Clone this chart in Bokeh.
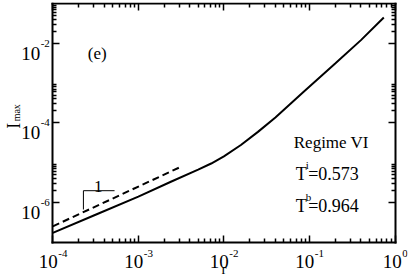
import math
from bokeh.plotting import figure
from bokeh.models import Label, LogAxis, FixedTicker, Range1d
from bokeh.embed import file_html
from bokeh.resources import INLINE

# ---- data ----
r_curve = [1e-4, 3.16e-4, 1e-3, 2.4e-3, 5e-3, 7.1e-3, 1e-2, 1.58e-2, 2.5e-2,
           4e-2, 8.5e-2, 0.2, 0.4, 0.74]
I_curve = [1.72e-7, 4.91e-7, 1.40e-6, 3.31e-6, 6.67e-6, 9.5e-6, 1.44e-5, 2.77e-5,
           5.93e-5, 1.37e-4, 5.96e-4, 3.09e-3, 1.20e-2, 4.44e-2]
r_slope = [1e-4, 3e-3]
I_slope = [2.5e-7, 7.5e-6]
tri_r = [2.28e-4, 2.28e-4, 5.27e-4]
tri_I = [6.64e-7, 1.97e-6, 1.97e-6]
tri_label_r = 3.4e-4
tri_label_I = 1.97e-6

x_major = [1e-4, 1e-3, 1e-2, 1e-1, 1e0]
x_exps = ["-4", "-3", "-2", "-1", "0"]
y_major = [1e-6, 1e-4, 1e-2]
y_exps = ["-6", "-4", "-2"]
x_minor = [k * m for m in [1e-4, 1e-3, 1e-2, 1e-1] for k in range(2, 10)]
y_minor = [k * m for m in y_major for k in range(2, 10)]

x_lo, x_hi = 1e-4, 1.0
y_lo, y_hi = 1e-7, 1e-1

FONT = "Liberation Serif"
W, H = 409, 276
MB = 2                      # border around the frame
MBB = 0                     # bottom border
BOX_L, BOX_R, BOX_T, BOX_B = 52.3, 394.5, 3.0, 241.7   # axis box in pixels

# ranges so that the axis box lands on BOX_* inside the frame
dx = (math.log10(x_hi) - math.log10(x_lo)) / (BOX_R - BOX_L)
dy = (math.log10(y_hi) - math.log10(y_lo)) / (BOX_B - BOX_T)
xr = Range1d(10 ** (math.log10(x_lo) - (BOX_L - MB) * dx), 10 ** (math.log10(x_hi) + (W - MB - BOX_R) * dx))
yr = Range1d(10 ** (math.log10(y_lo) - (H - MBB - BOX_B) * dy), 10 ** (math.log10(y_hi) + (BOX_T - MB) * dy))

p = figure(width=W, height=H, x_axis_type="log", y_axis_type="log",
           x_range=xr, y_range=yr, output_backend="svg", toolbar_location=None,
           min_border_left=MB, min_border_right=MB, min_border_top=MB, min_border_bottom=MBB)
p.grid.visible = False
p.outline_line_color = None
p.background_fill_color = "white"
p.border_fill_color = "white"


def style(ax, major, minor, loc, bounds):
    ax.ticker = FixedTicker(ticks=major, minor_ticks=minor)
    ax.fixed_location = loc
    ax.bounds = bounds
    ax.axis_line_width = 2
    ax.axis_line_cap = "square"
    ax.major_tick_in = 7
    ax.major_tick_out = 0
    ax.minor_tick_in = 4
    ax.minor_tick_out = 0
    ax.major_tick_line_width = 1.5
    ax.minor_tick_line_width = 1.5
    ax.major_label_text_font_size = "1px"
    ax.major_label_text_alpha = 0.0
    ax.major_label_standoff = 0


style(p.xaxis[0], x_major, x_minor, y_lo, (x_lo, x_hi))
style(p.yaxis[0], y_major, y_minor, x_lo, (y_lo, y_hi))
top = LogAxis()
style(top, x_major, x_minor, y_hi, (x_lo, x_hi))
p.add_layout(top, "above")
right = LogAxis()
style(right, y_major, y_minor, x_hi, (y_lo, y_hi))
p.add_layout(right, "right")

# curves
p.line(r_curve, I_curve, line_color="black", line_width=2)
p.line(r_slope, I_slope, line_color="black", line_width=2, line_dash="7 4")
p.line(tri_r, tri_I, line_color="black", line_width=1)


def lab(x, y, text, size, align="left", baseline="alphabetic", xo=0, yo=0, angle=0.0):
    p.add_layout(Label(x=x, y=y, text=text, text_font=FONT, text_font_size=size,
                       text_align=align, text_baseline=baseline, x_offset=xo, y_offset=yo,
                       angle=angle, text_color="black"))


lab(tri_label_r, tri_label_I, "1", "17px", align="center", yo=4)

# tick labels: "10" with a raised exponent
BASE = 19
EXP = 11


def exp_w(s):
    return sum(0.333 * EXP if c == "-" else 0.5 * EXP for c in s)


w10 = 1.0 * BASE
for t, e in zip(x_major, x_exps):
    we = exp_w(e)
    off = (w10 + we) / 2 - we
    lab(t, y_lo, "10", f"{BASE}px", align="right", xo=off, yo=-19.5)
    lab(t, y_lo, e, f"{EXP}px", align="left", xo=off + 0.5, yo=-11)

for t, e in zip(y_major, y_exps):
    we = exp_w(e)
    lab(x_lo, t, "10", f"{BASE}px", align="right", xo=-(3 + we + 0.5), yo=-10)
    lab(x_lo, t, e, f"{EXP}px", align="right", xo=-3, yo=0)

# axis titles
lab(1e-2, y_lo, "r", "15px", align="center", yo=-26.8)
y_mid = (y_lo * y_hi) ** 0.5
lab(x_lo, y_mid, "I", "18px", align="right", xo=-39, yo=0, angle=math.pi / 2)
lab(x_lo, y_mid, "max", "10px", align="left", xo=-36, yo=1.5, angle=math.pi / 2)

# annotations
lab(3.3e-4, 5.5e-3, "(e)", "17px", align="center")
lab(0.18, 3.26e-5, "Regime VI", "17px", align="center")
lab(0.069, 5.24e-6, "T", "18px")
lab(0.069, 5.24e-6, "i", "11px", xo=10, yo=9)
lab(0.069, 5.24e-6, "=0.573", "18px", xo=12.5)
lab(0.069, 8.35e-7, "T", "18px")
lab(0.069, 8.35e-7, "b", "11px", xo=10, yo=9)
lab(0.069, 8.35e-7, "=0.964", "18px", xo=12.5)

open("out.html", "w").write(file_html(p, INLINE))
